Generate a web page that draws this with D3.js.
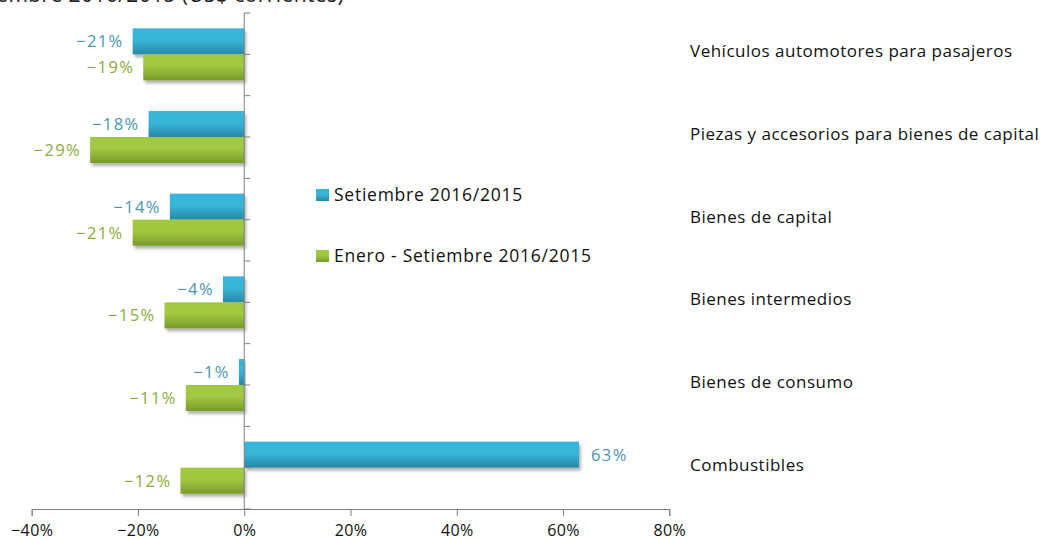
<!DOCTYPE html>
<html><head><meta charset="utf-8">
<script src="https://cdn.jsdelivr.net/npm/d3@7"></script>
<style>body{margin:0;background:#fff;} svg{display:block} text{font-family:"Open Sans",sans-serif;}</style>
</head><body><svg id="c" width="1041" height="541"></svg>
<script>
const categories = ["Vehículos automotores para pasajeros","Piezas y accesorios para bienes de capital","Bienes de capital","Bienes intermedios","Bienes de consumo","Combustibles"];
const seriesNames = ["Setiembre 2016/2015","Enero - Setiembre 2016/2015"];
const setiembre = [-21,-18,-14,-4,-1,63];
const eneroSetiembre = [-19,-29,-21,-15,-11,-12];
const xTicks = [-40,-20,0,20,40,60,80];
const titleText = "Enero - Setiembre 2016/2015 (US$ corrientes)";

const series = [
  {name: seriesNames[0], values: setiembre, top:"#38b6da", bot:"#2888a5", label:"#4a96b0"},
  {name: seriesNames[1], values: eneroSetiembre, top:"#a0c840", bot:"#779b2b", label:"#8bab3b"}
];

const svg = d3.select("#c");
const defs = svg.append("defs");
const f = defs.append("filter").attr("id","sh").attr("x","-10%").attr("y","-20%").attr("width","130%").attr("height","160%");
f.append("feDropShadow").attr("dx",2).attr("dy",3).attr("stdDeviation",1.6).attr("flood-color","#000").attr("flood-opacity",0.3);
series.forEach((s,i)=>{
  const g = defs.append("linearGradient").attr("id","g"+i).attr("x1",0).attr("y1",0).attr("x2",0).attr("y2",1);
  g.append("stop").attr("offset","0%").attr("stop-color",s.top);
  g.append("stop").attr("offset","45%").attr("stop-color",s.top);
  g.append("stop").attr("offset","100%").attr("stop-color",s.bot);
});

const x = d3.scaleLinear().domain([-40,80]).range([31.7,669.3]);
const y = d3.scaleBand().domain(categories).range([13,509]).paddingInner(0.37).paddingOuter(0.185);
const yi = d3.scaleBand().domain(seriesNames).range([0,y.bandwidth()]);

// title (cut off at top)
svg.append("text").attr("x",344).attr("y",2).attr("text-anchor","end")
  .attr("font-size",21).attr("letter-spacing",0.4).attr("fill","#222").text(titleText);

// bars
series.forEach((s,si)=>{
  svg.append("g").selectAll("rect").data(categories).join("rect")
    .attr("x",(c,i)=>Math.min(x(0),x(s.values[i])))
    .attr("width",(c,i)=>Math.abs(x(s.values[i])-x(0)))
    .attr("y",c=>y(c)+yi(s.name))
    .attr("height",yi.bandwidth())
    .attr("fill","url(#g"+si+")")
    .attr("filter","url(#sh)");
});

// y axis
const yAxisG = svg.append("g");
yAxisG.append("line").attr("x1",x(0)).attr("x2",x(0)).attr("y1",y.range()[0]).attr("y2",y.range()[1]).attr("stroke","#7f7f7f");
const halfTicks = d3.range(categories.length*2+1).map(k=>y.range()[0]+k*y.step()/2);
yAxisG.selectAll(".t").data(halfTicks).join("line")
  .attr("x1",x(0)).attr("x2",x(0)+6).attr("y1",d=>d).attr("y2",d=>d).attr("stroke","#7f7f7f");

// x axis
const xa = svg.append("g").attr("transform","translate(0,509)")
  .call(d3.axisBottom(x).tickValues(xTicks).tickSize(7).tickPadding(9).tickFormat(d=>(d<0?"\u2212":"")+Math.abs(d)+"%"));
xa.attr("font-size",null).attr("font-family",null);
xa.select(".domain").attr("stroke","#7f7f7f");
xa.selectAll(".tick line").attr("stroke","#7f7f7f");
xa.selectAll(".tick text").style("font-size","16px").style("letter-spacing","0.4px").attr("fill","#111");

// data labels
series.forEach((s,si)=>{
  svg.append("g").selectAll("text").data(categories).join("text")
    .attr("x",(c,i)=>s.values[i]<0 ? x(s.values[i])-9 : x(s.values[i])+12)
    .attr("y",c=>y(c)+yi(s.name)+yi.bandwidth()/2)
    .attr("dy","0.36em")
    .attr("text-anchor",(c,i)=>s.values[i]<0?"end":"start")
    .attr("font-size",16.5).attr("letter-spacing",1.4).attr("fill",s.label)
    .text((c,i)=>(s.values[i]<0?"\u2212":"")+Math.abs(s.values[i])+"%");
});

// category labels
svg.append("g").selectAll("text").data(categories).join("text")
  .attr("x",690).attr("y",c=>y(c)+y.bandwidth()/2-3).attr("dy","0.36em")
  .attr("font-size",17).attr("letter-spacing",0.5).attr("fill","#111").text(c=>c);

// legend
const lg = svg.append("g");
series.forEach((s,i)=>{
  const ly = 195 + i*61;
  lg.append("rect").attr("x",316).attr("y",ly-6).attr("width",13).attr("height",12).attr("fill","url(#g"+i+")");
  lg.append("text").attr("x",334).attr("y",ly).attr("dy","0.36em").attr("font-size",17.5).attr("letter-spacing",0.75).attr("fill","#111").text(s.name);
});
</script></body></html>
